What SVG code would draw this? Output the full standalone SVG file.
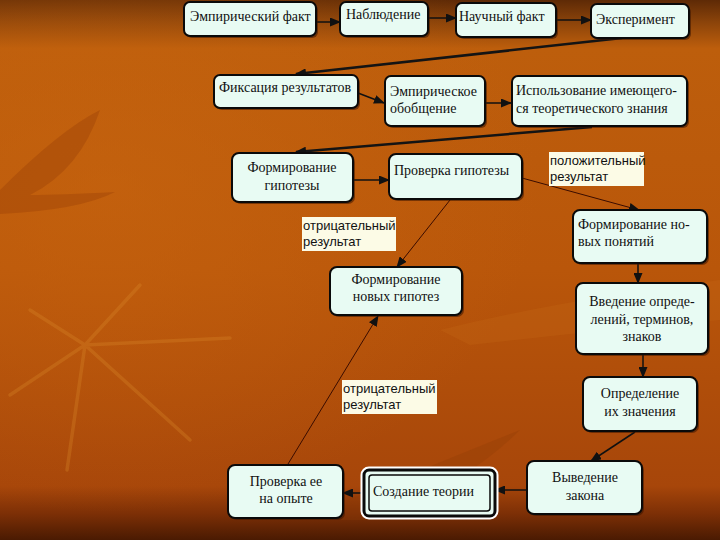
<svg xmlns="http://www.w3.org/2000/svg" width="720" height="540" viewBox="0 0 720 540">
<defs>
<linearGradient id="bg" x1="0" y1="0" x2="0" y2="1">
<stop offset="0" stop-color="#5e2a06"/>
<stop offset="0.04" stop-color="#8a430a"/>
<stop offset="0.09" stop-color="#bd5e0c"/>
<stop offset="0.5" stop-color="#b9560a"/>
<stop offset="0.9" stop-color="#a7460a"/>
<stop offset="0.95" stop-color="#7e3006"/>
<stop offset="1" stop-color="#4a1a02"/>
</linearGradient>
<radialGradient id="glow" cx="0.15" cy="0.35" r="0.6">
<stop offset="0" stop-color="#c8650f" stop-opacity="0.6"/>
<stop offset="1" stop-color="#c8650f" stop-opacity="0"/>
</radialGradient>
<marker id="ah" markerUnits="userSpaceOnUse" markerWidth="11" markerHeight="9" refX="10" refY="4.5" orient="auto">
<path d="M0,0 L11,4.5 L0,9 z" fill="#111"/>
</marker>
<style>
.box{fill:#e8fbf3;stroke:#0a0a0a;stroke-width:2}
.shd{fill:#3a1400;opacity:0.55}
.t{font-family:"Liberation Serif","Times New Roman","DejaVu Serif",serif;font-size:14px;font-weight:normal;fill:#111}
.c{text-anchor:middle}
.lb{fill:#fcfbe6}
.lt{font-family:"Liberation Sans",Arial,sans-serif;font-size:13px;fill:#111}
.k{fill:none;stroke:#111;stroke-width:1.5;marker-end:url(#ah)}
.kt{fill:none;stroke:#141414;stroke-width:2.5;marker-end:url(#ah)}
.kn{fill:none;stroke:#3a0c00;stroke-width:1;marker-end:url(#ah)}
</style>
</defs>

<g id="background">
<rect width="720" height="540" fill="url(#bg)"/>
<rect width="720" height="540" fill="url(#glow)"/>
<path d="M0,190 Q60,130 100,110 Q80,170 30,195 Q60,195 115,192 Q80,210 0,214 z" fill="#9a4208" opacity="0.4"/>
<path d="M10,395 L85,345 L140,285 M85,345 L30,310 M85,345 L67,470 M85,345 L190,440 M85,345 L230,338" stroke="#d98a2a" stroke-width="3.5" fill="none" opacity="0.3" stroke-linecap="round"/>
<path d="M440,330 Q560,300 720,280 L720,320 Q600,330 470,345 z" fill="#c76a18" opacity="0.25"/>
<path d="M300,520 Q420,470 520,430 Q470,480 380,520 z" fill="#8e3a06" opacity="0.3"/>
</g>

<g id="connectors">
<path class="k" d="M316,22 L340,22"/>
<path class="k" d="M428,18 L456,18"/>
<path class="k" d="M556,20 L591,20"/>
<path class="kt" d="M622,38 L296,74"/>
<path class="k" d="M358,93 L384,103"/>
<path class="k" d="M484,103 L511,103"/>
<path class="kt" d="M592,127 L296,152"/>
<path class="k" d="M353,180 L389,180"/>
<path class="kn" d="M522,178 L639,210"/>
<path class="kn" d="M450,200 L397,267"/>
<path class="k" d="M638,263 L638,283"/>
<path class="k" d="M643,354 L643,377"/>
<path class="k" d="M635,432 L591,461"/>
<path class="k" d="M527,490 L495,490"/>
<path class="k" d="M364,493 L343,493"/>
<path class="kn" d="M288,464 L378,316"/>
</g>

<g id="n1"><rect class="shd" x="186" y="4" width="132" height="34" rx="6"/><rect class="box" x="184" y="2" width="132" height="34" rx="6"/><text class="t" x="190" y="21">Эмпирический факт</text></g>
<g id="n2"><rect class="shd" x="342" y="4" width="88" height="34" rx="6"/><rect class="box" x="340" y="2" width="88" height="34" rx="6"/><text class="t" x="346" y="19">Наблюдение</text></g>
<g id="n3"><rect class="shd" x="458" y="5" width="100" height="34" rx="6"/><rect class="box" x="456" y="3" width="100" height="34" rx="6"/><text class="t" x="459" y="21">Научный факт</text></g>
<g id="n4"><rect class="shd" x="593" y="6" width="98" height="34" rx="6"/><rect class="box" x="591" y="4" width="98" height="34" rx="6"/><text class="t" x="596" y="24">Эксперимент</text></g>

<g id="n5"><rect class="shd" x="216" y="77" width="144" height="33" rx="6"/><rect class="box" x="214" y="75" width="144" height="33" rx="6"/><text class="t" x="219" y="92">Фиксация результатов</text></g>
<g id="n6"><rect class="shd" x="387" y="78" width="100" height="50" rx="6"/><rect class="box" x="385" y="76" width="100" height="50" rx="6"/><text class="t" x="390" y="96">Эмпирическое</text><text class="t" x="390" y="113">обобщение</text></g>
<g id="n7"><rect class="shd" x="514" y="78" width="175" height="50" rx="6"/><rect class="box" x="512" y="76" width="175" height="50" rx="6"/><text class="t" x="516" y="95">Использование имеющего-</text><text class="t" x="516" y="113">ся  теоретического знания</text></g>

<g id="n8"><rect class="shd" x="234" y="155" width="121" height="49" rx="7"/><rect class="box" x="232" y="153" width="121" height="49" rx="7"/><text class="t c" x="292" y="172">Формирование</text><text class="t c" x="292" y="190">гипотезы</text></g>
<g id="n9"><rect class="shd" x="391" y="156" width="133" height="45" rx="7"/><rect class="box" x="389" y="154" width="133" height="45" rx="7"/><text class="t" x="394" y="175">Проверка гипотезы</text></g>

<g id="l1"><rect class="lb" x="549" y="152" width="95" height="34"/><text class="lt" x="550" y="165">положительный</text><text class="lt" x="550" y="181">результат</text></g>
<g id="l2"><rect class="lb" x="302" y="217" width="94" height="34"/><text class="lt" x="303" y="230">отрицательный</text><text class="lt" x="303" y="246">результат</text></g>

<g id="n10"><rect class="shd" x="575" y="212" width="134" height="53" rx="7"/><rect class="box" x="573" y="210" width="134" height="53" rx="7"/><text class="t" x="578" y="229">Формирование но-</text><text class="t" x="578" y="246">вых понятий</text></g>
<g id="n11"><rect class="shd" x="332" y="269" width="132" height="48" rx="7"/><rect class="box" x="330" y="267" width="132" height="48" rx="7"/><text class="t c" x="396" y="284">Формирование</text><text class="t c" x="396" y="301">новых гипотез</text></g>
<g id="n12"><rect class="shd" x="578" y="285" width="132" height="71" rx="7"/><rect class="box" x="576" y="283" width="132" height="71" rx="7"/><text class="t c" x="642" y="306">Введение опреде-</text><text class="t c" x="642" y="324">лений, терминов,</text><text class="t c" x="642" y="341">знаков</text></g>

<g id="l3"><rect class="lb" x="342" y="380" width="95" height="34"/><text class="lt" x="343" y="393">отрицательный</text><text class="lt" x="343" y="409">результат</text></g>

<g id="n13"><rect class="shd" x="585" y="379" width="114" height="54" rx="7"/><rect class="box" x="583" y="377" width="114" height="54" rx="7"/><text class="t c" x="640" y="398">Определение</text><text class="t c" x="640" y="416">их значения</text></g>
<g id="n14"><rect class="shd" x="529" y="463" width="115" height="53" rx="7"/><rect class="box" x="527" y="461" width="115" height="53" rx="7"/><text class="t c" x="585" y="482">Выведение</text><text class="t c" x="585" y="500">закона</text></g>
<g id="n15"><rect x="363" y="469" width="133" height="48" rx="6" fill="none" stroke="#fff" stroke-width="5"/><rect x="364" y="470" width="131" height="46" rx="5" fill="#e8fbf3" stroke="#0a0a0a" stroke-width="3"/><rect x="369" y="475" width="121" height="36" rx="3" fill="none" stroke="#0a0a0a" stroke-width="1.5"/><text class="t" x="373" y="496">Создание теории</text></g>
<g id="n16"><rect class="shd" x="230" y="467" width="115" height="53" rx="7"/><rect class="box" x="228" y="465" width="115" height="53" rx="7"/><text class="t c" x="286" y="486">Проверка ее</text><text class="t c" x="286" y="503">на опыте</text></g>
</svg>
